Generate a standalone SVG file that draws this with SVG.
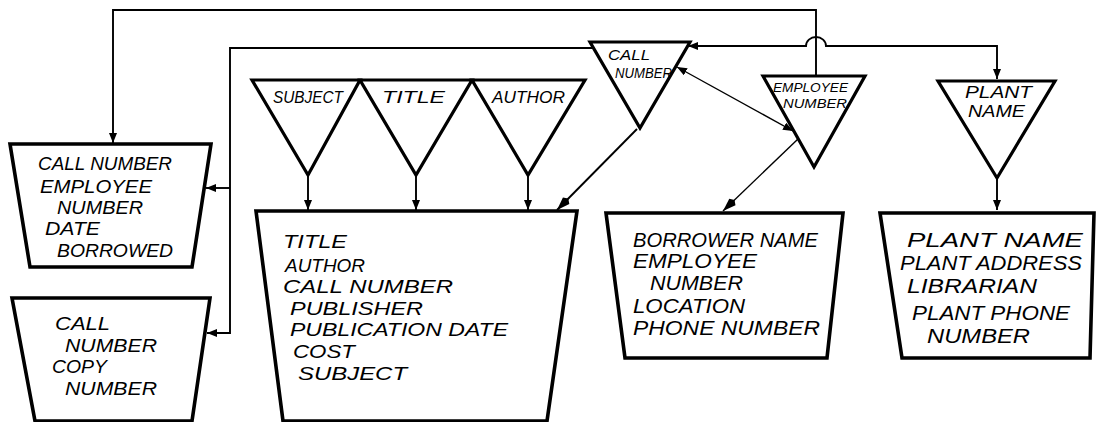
<svg xmlns="http://www.w3.org/2000/svg" width="1096" height="422" viewBox="0 0 1096 422">
  <style>
    .rec { fill: #fff; stroke: #000; stroke-width: 3.6; stroke-linejoin: miter; }
    .key { fill: #fff; stroke: #000; stroke-width: 3.2; stroke-linejoin: miter; }
    .con { fill: none; stroke: #000; stroke-width: 1.9; }
    .thin { fill: none; stroke: #000; stroke-width: 1.4; }
    text { font-family: "Liberation Sans", Arial, sans-serif; font-style: italic; fill: #000; }
    .f18 { font-size: 18px; }
    .f21 { font-size: 21px; }
    .f20 { font-size: 20px; }
    .f16 { font-size: 16px; }
    .f15 { font-size: 15px; }
    .f13 { font-size: 13px; }
  </style>
  <defs>
    <marker id="arr" viewBox="0 0 10 8" refX="10" refY="4" markerWidth="10" markerHeight="8" markerUnits="userSpaceOnUse" orient="auto-start-reverse">
      <path d="M0,0 L10,4 L0,8 Z" fill="#000"/>
    </marker>
    <marker id="arrL" viewBox="0 0 16 10" refX="16" refY="5" markerWidth="16" markerHeight="10" markerUnits="userSpaceOnUse" orient="auto" overflow="visible">
      <path d="M0,5 L3,0.5 L16,5 L3,9.5 Z" fill="#000"/>
    </marker>
  </defs>

  <!-- connectors -->
  <g id="connectors">
    <!-- employee number key to loan record -->
    <path class="con" d="M816,76 V10 H113 V143" marker-end="url(#arr)"/>
    <!-- call number key to loan and copy records -->
    <path class="con" d="M593,48 H230 V333 H207" marker-end="url(#arr)"/>
    <path class="con" d="M230,188 H206" marker-end="url(#arr)"/>
    <!-- call number key to plant name key, hopping over the vertical line -->
    <path class="con" d="M688,46 H806 A10,9 0 0 1 826,46 H997 V79" marker-start="url(#arr)" marker-end="url(#arr)"/>
    <!-- secondary keys into the book record -->
    <path class="con" d="M308,175 V210" marker-end="url(#arr)"/>
    <path class="con" d="M416,175 V210" marker-end="url(#arr)"/>
    <path class="con" d="M528,175 V210" marker-end="url(#arr)"/>
    <path class="con" d="M637,129 L557,210" marker-end="url(#arrL)"/>
    <!-- call number and employee number -->
    <path class="thin" d="M677,67 L793,131" marker-start="url(#arr)" marker-end="url(#arr)"/>
    <path class="thin" d="M798,139 L723,211" marker-end="url(#arrL)"/>
    <!-- plant name key into plant record -->
    <path class="con" d="M997,178 V210" marker-end="url(#arr)"/>
  </g>

  <!-- loan record -->
  <g id="loan">
    <path class="rec" d="M10,144 H211 L192,267 H30 Z"/>
    <text class="f18" x="38" y="170" textLength="134" lengthAdjust="spacingAndGlyphs">CALL NUMBER</text>
    <text class="f18" x="40" y="193" textLength="112" lengthAdjust="spacingAndGlyphs">EMPLOYEE</text>
    <text class="f18" x="57" y="214" textLength="86" lengthAdjust="spacingAndGlyphs">NUMBER</text>
    <text class="f18" x="45" y="235" textLength="55" lengthAdjust="spacingAndGlyphs">DATE</text>
    <text class="f18" x="57" y="257" textLength="116" lengthAdjust="spacingAndGlyphs">BORROWED</text>
  </g>

  <!-- copy record -->
  <g id="copy">
    <path class="rec" d="M12,298 H210 L192,421 H35 Z"/>
    <text class="f18" x="55" y="330" textLength="55" lengthAdjust="spacingAndGlyphs">CALL</text>
    <text class="f18" x="65" y="352" textLength="92" lengthAdjust="spacingAndGlyphs">NUMBER</text>
    <text class="f18" x="52" y="373" textLength="55" lengthAdjust="spacingAndGlyphs">COPY</text>
    <text class="f18" x="65" y="395" textLength="92" lengthAdjust="spacingAndGlyphs">NUMBER</text>
  </g>

  <!-- secondary keys -->
  <g id="key-subject">
    <path class="key" d="M252,80 H360 L308,175 Z"/>
    <text class="f16" x="273" y="103" textLength="70" lengthAdjust="spacingAndGlyphs">SUBJECT</text>
  </g>
  <g id="key-title">
    <path class="key" d="M360,80 H472 L416,175 Z"/>
    <text class="f16" x="382" y="103" textLength="63" lengthAdjust="spacingAndGlyphs">TITLE</text>
  </g>
  <g id="key-author">
    <path class="key" d="M472,80 H585 L528,175 Z"/>
    <text class="f16" x="492" y="103" textLength="73" lengthAdjust="spacingAndGlyphs">AUTHOR</text>
  </g>
  <g id="key-call-number">
    <path class="key" d="M590,42 H690 L640,128 Z"/>
    <text class="f15" x="608" y="60" textLength="42" lengthAdjust="spacingAndGlyphs">CALL</text>
    <text class="f15" x="615" y="78" textLength="57" lengthAdjust="spacingAndGlyphs">NUMBER</text>
  </g>
  <g id="key-employee-number">
    <path class="key" d="M763,76 H865 L814,167 Z"/>
    <text class="f13" x="773" y="92" textLength="75" lengthAdjust="spacingAndGlyphs">EMPLOYEE</text>
    <text class="f13" x="783" y="108" textLength="64" lengthAdjust="spacingAndGlyphs">NUMBER</text>
  </g>
  <g id="key-plant-name">
    <path class="key" d="M938,81 H1055 L997,178 Z"/>
    <text class="f16" x="965" y="98" textLength="67" lengthAdjust="spacingAndGlyphs">PLANT</text>
    <text class="f16" x="968" y="117" textLength="57" lengthAdjust="spacingAndGlyphs">NAME</text>
  </g>

  <!-- book record -->
  <g id="book">
    <path class="rec" d="M256,211 H577 L547,421 H283 Z"/>
    <text class="f18" x="283" y="248" textLength="64" lengthAdjust="spacingAndGlyphs">TITLE</text>
    <text class="f18" x="285" y="272" textLength="80" lengthAdjust="spacingAndGlyphs">AUTHOR</text>
    <text class="f18" x="283" y="293" textLength="170" lengthAdjust="spacingAndGlyphs">CALL  NUMBER</text>
    <text class="f18" x="290" y="315" textLength="133" lengthAdjust="spacingAndGlyphs">PUBLISHER</text>
    <text class="f18" x="290" y="336" textLength="218" lengthAdjust="spacingAndGlyphs">PUBLICATION  DATE</text>
    <text class="f18" x="293" y="358" textLength="62" lengthAdjust="spacingAndGlyphs">COST</text>
    <text class="f18" x="298" y="380" textLength="109" lengthAdjust="spacingAndGlyphs">SUBJECT</text>
  </g>

  <!-- borrower record -->
  <g id="borrower">
    <path class="rec" d="M606,213 H843 L827,358 H625 Z"/>
    <text class="f21" x="633" y="247" textLength="185" lengthAdjust="spacingAndGlyphs">BORROWER NAME</text>
    <text class="f21" x="633" y="268" textLength="124" lengthAdjust="spacingAndGlyphs">EMPLOYEE</text>
    <text class="f21" x="650" y="290" textLength="93" lengthAdjust="spacingAndGlyphs">NUMBER</text>
    <text class="f21" x="633" y="313" textLength="112" lengthAdjust="spacingAndGlyphs">LOCATION</text>
    <text class="f21" x="633" y="335" textLength="187" lengthAdjust="spacingAndGlyphs">PHONE NUMBER</text>
  </g>

  <!-- plant record -->
  <g id="plant">
    <path class="rec" d="M880,213 H1094 L1090,358 H902 Z"/>
    <text class="f20" x="907" y="247" textLength="176" lengthAdjust="spacingAndGlyphs">PLANT  NAME</text>
    <text class="f20" x="900" y="270" textLength="182" lengthAdjust="spacingAndGlyphs">PLANT ADDRESS</text>
    <text class="f20" x="907" y="293" textLength="130" lengthAdjust="spacingAndGlyphs">LIBRARIAN</text>
    <text class="f20" x="912" y="320" textLength="158" lengthAdjust="spacingAndGlyphs">PLANT PHONE</text>
    <text class="f20" x="927" y="343" textLength="103" lengthAdjust="spacingAndGlyphs">NUMBER</text>
  </g>
</svg>
